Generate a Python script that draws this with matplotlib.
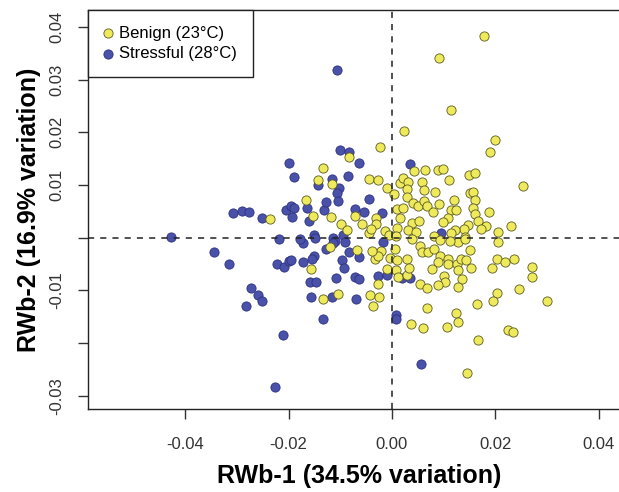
import numpy as np
import matplotlib
matplotlib.use("Agg")
import matplotlib.pyplot as plt

plt.rcParams["font.family"] = ["Liberation Sans", "DejaVu Sans"]

# PCA scores (units of 1e-3)
benign_x = [17.8, 9.1, 11.4, 2.3, 19.9, 19.0, -2.3, 25.4, -8.3, -13.4, -23.6, -16.6,
            -15.3, -14.3, -11.6, -4.5, -2.7, -1.0, 0.4, 1.5, 2.1, 3.1, 4.3, 6.4,
            5.8, 2.9, 6.2, 2.9, 4.1, 5.0, 6.2, -11.8, -7.2, -5.8, -9.9, -8.7,
            -3.1, -4.5, -3.1, -1.4, -4.1, 1.0, 2.1, 1.5, 3.9, 5.2, 1.0, 3.1,
            4.6, -0.6, 0.8, 8.9, 9.9, 11.0, 14.9, 16.1, 8.3, 15.1, 15.7, 16.1,
            12.0, 9.1, 6.8, 11.4, 12.4, 7.9, 15.7, 16.1, 18.8, 10.8, 9.9, 16.6,
            14.7, 18.2, 17.2, 13.9, 12.2, 11.4, 23.0, 20.5, 8.1, 14.1, -12.0, -6.8,
            -15.7, -13.4, -10.5, -4.3, -2.5, -3.7, -2.7, -1.0, 0.8, 1.2, 2.9, 5.4,
            6.8, 6.8, 3.7, 6.0, -3.3, -2.1, -2.7, -0.4, 1.0, 2.9, 3.3, 0.6,
            5.4, 5.8, 3.9, -3.9, 7.0, 8.1, 9.3, 10.8, 8.9, 10.8, 12.6, 13.4,
            14.3, 15.1, 12.8, 11.2, 9.3, 14.1, 20.5, 20.3, 21.9, 23.6, 19.4, 15.3,
            12.8, 7.7, 10.1, 13.6, 10.3, 8.9, 12.8, 27.1, 27.1, 24.6, 20.3, 19.6,
            16.5, 30.0, 12.4, 12.8, 10.6, 22.5, 23.4, 16.6, 14.5]
benign_y = [38.3, 34.0, 24.2, 20.2, 18.5, 16.2, 17.2, 9.8, 15.3, 13.2, 3.6, 7.2,
            4.2, 10.9, 10.2, 11.1, 10.9, 9.4, 8.3, 10.4, 11.3, 10.6, 12.6, 12.8,
            10.6, 9.2, 9.1, 7.7, 6.6, 6.0, 7.0, 4.0, 4.2, 2.6, 2.6, 1.5,
            3.8, 0.8, 2.6, 1.3, 1.7, 5.5, 5.7, 3.8, 2.8, 3.2, 1.9, 1.5,
            1.1, 0.6, 0.4, 12.8, 13.0, 10.9, 11.9, 12.3, 8.7, 8.5, 8.7, 7.2,
            7.2, 6.4, 6.0, 5.3, 5.3, 4.9, 5.7, 4.5, 4.9, 3.8, 3.0, 3.2,
            2.5, 2.3, 1.7, 1.7, 1.5, 0.8, 2.3, 1.1, 0.4, 0.2, -1.7, -2.3,
            -6.0, -11.7, -10.6, -10.8, -11.3, -13.0, -8.7, -6.0, -6.2, -7.5, -7.0, -8.7,
            -9.6, -13.4, -16.4, -17.2, -4.0, -2.6, -3.4, -3.8, -4.2, -4.0, -5.7, -2.1,
            -1.5, -2.8, -0.2, -2.5, -2.8, -2.1, -3.4, -4.0, -4.7, -4.9, -4.9, -4.0,
            -4.2, -2.3, -0.9, -0.6, -0.4, -0.2, -0.9, -4.0, -4.7, -4.0, -5.7, -5.8,
            -6.2, -6.0, -7.2, -7.9, -8.5, -8.9, -9.4, -5.5, -7.5, -9.8, -10.4, -12.1,
            -12.5, -12.1, -14.3, -15.9, -17.0, -17.5, -17.9, -19.4, -25.7]

stress_x = [-42.8, -34.5, -31.6, -30.8, -29.0, -27.7, -25.2, -27.3, -25.9, -25.2, -28.3, -21.1,
            -22.7, -21.9, -22.3, -20.9, -19.9, -19.9, -19.0, -20.5, -19.6, -19.0, -19.4, -16.1,
            -16.5, -13.2, -14.3, -11.6, -8.5, -10.1, -8.3, -6.4, -10.3, -10.6, -10.5, -12.8,
            -4.5, 3.5, -7.2, -5.4, -1.9, -9.5, -15.1, -11.4, -10.6, -17.2, -14.9, -11.0,
            -12.8, -11.4, -9.1, -8.3, -6.4, -9.7, -15.1, -15.5, -19.6, -17.2, -9.3, -10.8,
            -7.2, -6.4, -15.9, -14.7, -15.7, -11.6, -7.0, -2.7, -1.0, 1.9, 3.5, 0.8,
            0.8, -13.4, -1.7, 9.5, 5.6, -17.8]
stress_y = [0.2, -2.8, -4.9, 4.7, 5.1, 4.9, 3.8, -9.6, -10.8, -12.1, -13.0, -18.5,
            -28.3, -0.2, -4.9, -5.5, -4.5, 14.2, 11.5, 5.3, 6.0, 5.7, 4.0, 3.2,
            5.7, 5.3, 10.0, 11.1, 11.7, 16.6, 16.2, 14.2, 9.4, 8.5, 7.0, 6.8,
            7.4, 14.0, 5.5, 4.9, 4.7, 0.6, 0.6, 0.0, 31.9, -1.1, 0.0, -0.6,
            -2.1, -1.1, -0.9, -2.8, -3.6, -4.2, -3.4, -4.0, -4.3, -4.7, -5.8, -7.7,
            -7.5, -7.9, -8.5, -8.5, -11.3, -11.3, -11.7, -7.2, -7.0, -7.7, -7.7, -14.7,
            -15.5, -15.5, -0.9, 0.9, -24.0, -0.2]

benign_x = np.array(benign_x) / 1000
benign_y = np.array(benign_y) / 1000
stress_x = np.array(stress_x) / 1000
stress_y = np.array(stress_y) / 1000

x_ticks = [-0.04, -0.02, 0.00, 0.02, 0.04]
x_labels = ["-0.04", "-0.02", "0.00", "0.02", "0.04"]
y_ticks = [0.04, 0.03, 0.02, 0.01, 0.0, -0.01, -0.02, -0.03]
y_labels = ["0.04", "0.03", "0.02", "0.01", "", "-0.01", "", "-0.03"]

fig = plt.figure(figsize=(6.19, 4.92), dpi=100)
ax = fig.add_axes([0.1422, 0.1687, 0.875, 0.811])

yellow = "#eeea5c"
blue = "#4a51a8"
ax.scatter(stress_x, stress_y, s=44, c=blue, edgecolors="#2c3280", linewidths=0.6,
           label="Stressful (28°C)", zorder=2)
ax.scatter(benign_x, benign_y, s=44, c=yellow, edgecolors="#5c5a22", linewidths=0.6,
           label="Benign (23°C)", zorder=2)

ax.axhline(0, color="#222222", lw=1.1, ls=(0, (4, 4)), zorder=3)
ax.axvline(0, color="#222222", lw=1.1, ls=(0, (4, 4)), zorder=3)

ax.set_xlim(-0.0588, 0.046)
ax.set_ylim(-0.0325, 0.0432)

ax.spines["right"].set_visible(False)
for side in ["left", "bottom", "top"]:
    ax.spines[side].set_linewidth(1.0)
    ax.spines[side].set_color("#222222")

ax.set_xticks(x_ticks)
ax.set_xticklabels(x_labels)
ax.set_yticks(y_ticks)
ax.set_yticklabels(y_labels, rotation=90, va="center")
ax.tick_params(axis="both", direction="out", length=7, width=1.0, color="#333333",
               labelsize=12, labelcolor="#333333")
ax.tick_params(axis="x", pad=13)
ax.tick_params(axis="y", pad=10)

ax.set_xlabel("RWb-1 (34.5% variation)", fontsize=18, fontweight="bold", labelpad=9)
ax.set_ylabel("RWb-2 (16.9% variation)", fontsize=18, fontweight="bold", labelpad=6)

h, l = ax.get_legend_handles_labels()
leg = ax.legend(h[::-1], l[::-1], loc="upper left", bbox_to_anchor=(0, 1),
                borderaxespad=0, fancybox=False, edgecolor="#222222", framealpha=1,
                fontsize=12, handletextpad=0.4, borderpad=0.95, labelspacing=0.33,
                handlelength=0.5, scatterpoints=1)
leg.get_frame().set_linewidth(1.0)

fig.savefig("out.png", dpi=100)
